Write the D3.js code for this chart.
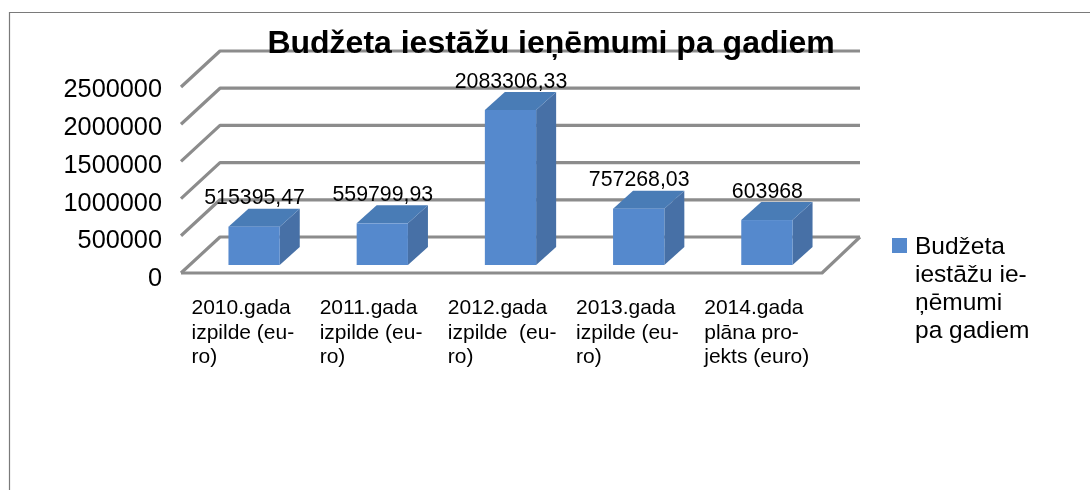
<!DOCTYPE html>
<html lang='lv'>
<head>
	<meta charset='UTF-8'>
	<title>Budžeta iestāžu ieņēmumi pa gadiem</title>
	<style>
		html, body { margin: 0; padding: 0; background: #fff; }
		svg { display: block; }
		text { font-family: 'Liberation Sans', Arial, sans-serif; fill: #000; }
	</style>
</head>
<body>

<svg></svg>

<script src='https://d3js.org/d3.v7.min.js'></script>
<script>
const titleText = 'Budžeta iestāžu ieņēmumi pa gadiem'
const categories = ['2010', '2011', '2012', '2013', '2014']
const categoryLines = [
	['2010.gada', 'izpilde (eu-', 'ro)'],
	['2011.gada', 'izpilde (eu-', 'ro)'],
	['2012.gada', 'izpilde  (eu-', 'ro)'],
	['2013.gada', 'izpilde (eu-', 'ro)'],
	['2014.gada', 'plāna pro-', 'jekts (euro)']
]
const values = [515395.47, 559799.93, 2083306.33, 757268.03, 603968]
const valueLabels = ['515395,47', '559799,93', '2083306,33', '757268,03', '603968']
const ticks = [0, 500000, 1000000, 1500000, 2000000, 2500000]
const legendLines = ['Budžeta', 'iestāžu ie-', 'ņēmumi', 'pa gadiem']

const width = 1090
const height = 490

// fake 3d: the floor runs back and to the right
const wallDx = 39
const wallDy = -36
const barDx = 20
const barDy = -18
const barInsetX = 9
const barInsetY = -8

const gridColor = '#8c8c8c'
const frontColor = '#5589cd'
const topColor = '#4a7bb6'
const sideColor = '#4670a6'

const svg = d3.select('svg')
	.attr('width', width)
	.attr('height', height)

// the source is a slightly soft screenshot
svg.append('defs').append('filter')
	.attr('id', 'soft')
	.attr('filterUnits', 'userSpaceOnUse')
	.attr('x', 0).attr('y', 0)
	.attr('width', width).attr('height', height)
	.append('feGaussianBlur')
	.attr('stdDeviation', 0.6)

const root = svg.append('g').attr('filter', 'url(#soft)')

// page frame
root.append('path')
	.attr('d', `M${width},12.5H9.5V${height}`)
	.attr('fill', 'none')
	.attr('stroke', '#7a7a7a')
	.attr('stroke-width', 1.2)

const x = d3.scaleBand()
	.domain(categories)
	.range([181, 822])
	.paddingInner(0.6)
	.paddingOuter(0.3)

const y = d3.scaleLinear()
	.domain([0, 2500000])
	.range([273, 87])

// the axis labels sit on a slightly longer run than the grid
const yLabels = y.copy().range([273.3, 84.8])

// value axis, the grid is drawn on its own below
root.append('g')
	.attr('transform', 'translate(170,0)')
	.call(d3.axisLeft(yLabels).tickValues(ticks).tickSize(0).tickPadding(8).tickFormat(d3.format('d')))
	.call(g => g.select('.domain').remove())
	.call(g => g.selectAll('text')
		.attr('font-size', 25.3)
		.attr('dy', '0.48em')
		.style('fill', '#000')
		.attr('font-family', "'Liberation Sans', Arial, sans-serif"))

const grid = root.append('g')
	.attr('fill', 'none')
	.attr('stroke', gridColor)
	.attr('stroke-width', 3.2)
	.attr('stroke-linejoin', 'round')

grid.selectAll('path')
	.data(ticks)
	.enter().append('path')
	.attr('d', d => `M181,${y(d)}l${wallDx},${wallDy}H860`)

// floor front and right edges
grid.append('path')
	.attr('d', `M181,${y(0)}H822l${wallDx - 1},${wallDy}`)

const bars = root.selectAll('.bar')
	.data(values)
	.enter().append('g')
	.attr('class', 'bar')
	.attr('transform', (d, i) => `translate(${x(categories[i]) + barInsetX},${barInsetY})`)

const bw = x.bandwidth()

bars.append('path')
	.attr('fill', sideColor)
	.attr('d', d => `M${bw},${y(d)}l${barDx},${barDy}V${y(0) + barDy}l${-barDx},${-barDy}Z`)

bars.append('path')
	.attr('fill', topColor)
	.attr('d', d => `M0,${y(d)}l${barDx},${barDy}h${bw}l${-barDx},${-barDy}Z`)

bars.append('rect')
	.attr('fill', frontColor)
	.attr('x', 0)
	.attr('width', bw)
	.attr('y', d => y(d))
	.attr('height', d => y(0) - y(d))

root.selectAll('.value')
	.data(values)
	.enter().append('text')
	.attr('class', 'value')
	.attr('text-anchor', 'middle')
	.attr('font-size', 21.3)
	.attr('x', (d, i) => x(categories[i]) + bw / 2 + 9.5)
	.attr('y', d => y(d) + barInsetY + barDy - 4.5)
	.text((d, i) => valueLabels[i])

// category labels, wrapped as in the source
const cats = root.selectAll('.cat')
	.data(categories)
	.enter().append('text')
	.attr('class', 'cat')
	.attr('font-size', 21)
	.attr('transform', (d, i) => `translate(${x(d) - 37 + 9},0)`)

cats.selectAll('tspan')
	.data((d, i) => categoryLines[i])
	.enter().append('tspan')
	.attr('x', 0)
	.attr('y', (d, i) => 314 + i * 24.5)
	.style('white-space', 'pre')
	.text(d => d)

root.append('text')
	.attr('x', 551)
	.attr('y', 53)
	.attr('text-anchor', 'middle')
	.attr('font-size', 32)
	.attr('font-weight', 'bold')
	.text(titleText)

// legend
root.append('rect')
	.attr('x', 892)
	.attr('y', 238)
	.attr('width', 15)
	.attr('height', 15)
	.attr('fill', frontColor)

root.selectAll('.legend')
	.data(legendLines)
	.enter().append('text')
	.attr('class', 'legend')
	.attr('x', 915)
	.attr('y', (d, i) => 254 + i * 28)
	.attr('font-size', 24.5)
	.text(d => d)
</script>
</body>
</html>
